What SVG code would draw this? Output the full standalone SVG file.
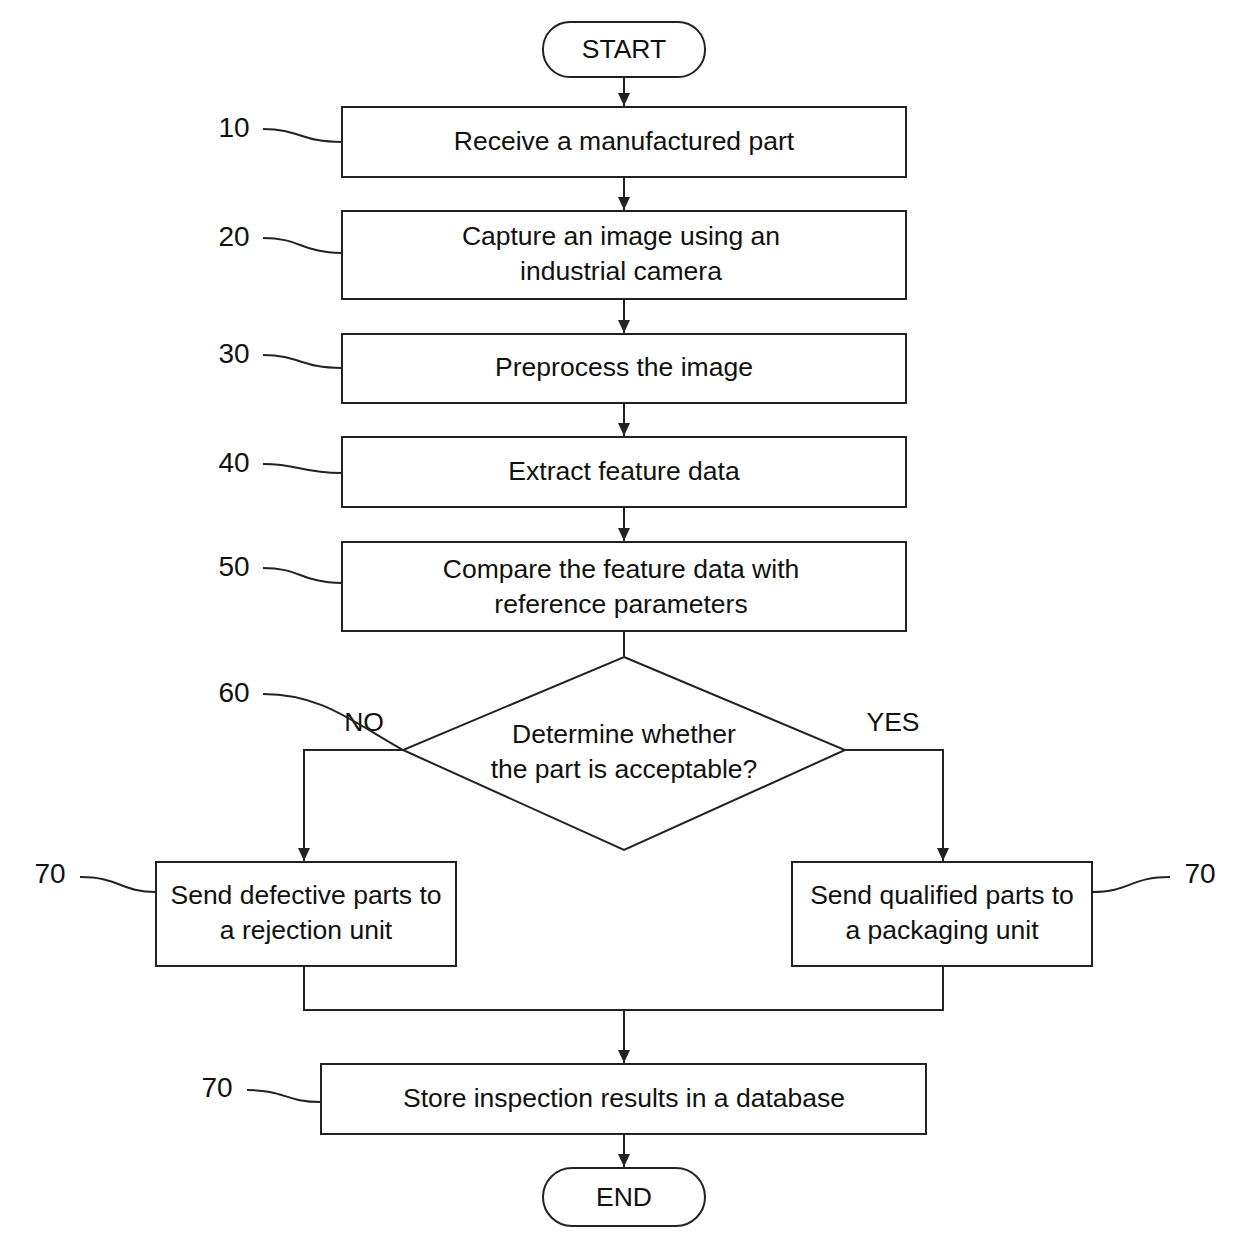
<svg xmlns="http://www.w3.org/2000/svg" width="1254" height="1254" viewBox="0 0 1254 1254">
<style>
.b{fill:#fff;stroke:#222;stroke-width:2}
.t{font-family:"Liberation Sans",Arial,sans-serif;font-size:26.5px;fill:#111;text-anchor:middle;dominant-baseline:middle}
.n{font-family:"Liberation Sans",Arial,sans-serif;font-size:28px;fill:#111;text-anchor:middle;dominant-baseline:middle}
.c{fill:none;stroke:#222;stroke-width:2}
</style>
<defs><marker id="a" markerWidth="14" markerHeight="14" refX="13" refY="6" orient="auto" markerUnits="userSpaceOnUse"><path d="M0,0 L13,6 L0,12 Z" fill="#222"/></marker></defs>
<rect width="1254" height="1254" fill="#fff"/>
<g id="connectors">
<path class="c" d="M624,77V106" marker-end="url(#a)"/>
<path class="c" d="M624,177V210" marker-end="url(#a)"/>
<path class="c" d="M624,299V333" marker-end="url(#a)"/>
<path class="c" d="M624,403V436" marker-end="url(#a)"/>
<path class="c" d="M624,507V541" marker-end="url(#a)"/>
<path class="c" d="M624,631V656"/>
<path class="c" d="M403,750H304V861" marker-end="url(#a)"/>
<path class="c" d="M845,750H943V861" marker-end="url(#a)"/>
<path class="c" d="M304,966V1010H943V966"/>
<path class="c" d="M624,1010V1063" marker-end="url(#a)"/>
<path class="c" d="M624,1134V1167" marker-end="url(#a)"/>
<text class="t" x="364" y="724">NO</text>
<text class="t" x="893" y="724">YES</text>
</g>
<g id="leaders">
<path class="c" d="M263,129C300,129 300,142 342,142"/>
<path class="c" d="M263,238C300,238 300,252 342,253"/>
<path class="c" d="M263,355C300,355 300,368 342,368"/>
<path class="c" d="M263,464C300,464 300,473 342,473"/>
<path class="c" d="M263,568C300,568 300,582 342,583"/>
<path class="c" d="M263,694C320,694 350,720 403,750"/>
<path class="c" d="M80,877C120,877 120,892 156,892"/>
<path class="c" d="M1170,877C1130,877 1130,892 1092,892"/>
<path class="c" d="M247,1090C285,1090 285,1102 321,1102"/>
<text class="n" x="234" y="130">10</text>
<text class="n" x="234" y="239">20</text>
<text class="n" x="234" y="356">30</text>
<text class="n" x="234" y="465">40</text>
<text class="n" x="234" y="569">50</text>
<text class="n" x="234" y="695">60</text>
<text class="n" x="50" y="876">70</text>
<text class="n" x="1200" y="876">70</text>
<text class="n" x="217" y="1090">70</text>
</g>
<g id="start"><rect class="b" x="543" y="22" width="162" height="55" rx="27"/><text class="t" x="624" y="51">START</text></g>
<g id="n10"><rect class="b" x="342" y="107" width="564" height="70"/><text class="t" x="624" y="143">Receive a manufactured part</text></g>
<g id="n20"><rect class="b" x="342" y="211" width="564" height="88"/><text class="t" x="621" y="238">Capture an image using an</text><text class="t" x="621" y="273">industrial camera</text></g>
<g id="n30"><rect class="b" x="342" y="334" width="564" height="69"/><text class="t" x="624" y="369">Preprocess the image</text></g>
<g id="n40"><rect class="b" x="342" y="437" width="564" height="70"/><text class="t" x="624" y="473">Extract feature data</text></g>
<g id="n50"><rect class="b" x="342" y="542" width="564" height="89"/><text class="t" x="621" y="571">Compare the feature data with</text><text class="t" x="621" y="606">reference parameters</text></g>
<g id="n60"><polygon class="b" points="624,657 845,750 624,850 403,750"/><text class="t" x="624" y="736">Determine whether</text><text class="t" x="624" y="771">the part is acceptable?</text></g>
<g id="n70a"><rect class="b" x="156" y="862" width="300" height="104"/><text class="t" x="306" y="897">Send defective parts to</text><text class="t" x="306" y="932">a rejection unit</text></g>
<g id="n70b"><rect class="b" x="792" y="862" width="300" height="104"/><text class="t" x="942" y="897">Send qualified parts to</text><text class="t" x="942" y="932">a packaging unit</text></g>
<g id="n70c"><rect class="b" x="321" y="1064" width="605" height="70"/><text class="t" x="624" y="1100">Store inspection results in a database</text></g>
<g id="end"><rect class="b" x="543" y="1168" width="162" height="58" rx="29"/><text class="t" x="624" y="1199">END</text></g>
</svg>
